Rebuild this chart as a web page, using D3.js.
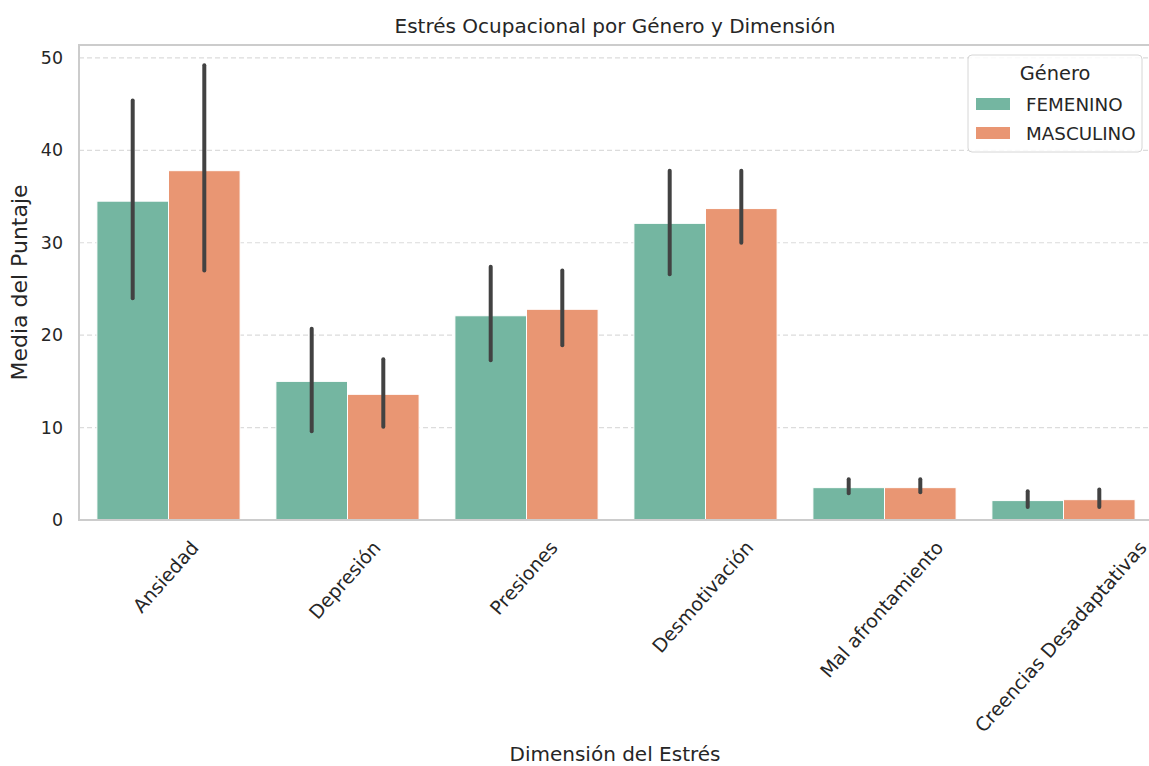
<!DOCTYPE html>
<html>

<head>
  <title>Estrés Ocupacional</title>
  <style>
    body, html { margin: 0; padding: 0; background: #fff; }
    svg { display: block; font-family: "DejaVu Sans", sans-serif; }
  </style>
</head>

<body>
  <svg id="svg" width="1149" height="766"></svg>

  <script src="https://d3js.org/d3.v7.min.js"></script>
  <script>
    const dimensions = ["Ansiedad", "Depresión", "Presiones", "Desmotivación", "Mal afrontamiento", "Creencias Desadaptativas"]
    const genders = ["FEMENINO", "MASCULINO"]
    const femMean = [34.5, 15.0, 22.1, 32.1, 3.5, 2.1]
    const femLow = [24.0, 9.6, 17.3, 26.6, 2.9, 1.4]
    const femHigh = [45.4, 20.7, 27.4, 37.8, 4.4, 3.1]
    const mascMean = [37.8, 13.6, 22.8, 33.7, 3.5, 2.2]
    const mascLow = [27.0, 10.1, 18.9, 30.0, 3.0, 1.4]
    const mascHigh = [49.2, 17.4, 27.0, 37.8, 4.4, 3.3]
    const yTicks = [0, 10, 20, 30, 40, 50]

    const colors = { FEMENINO: "#74b6a1", MASCULINO: "#e99673" }
    const textColor = "#262626"

    const rows = []
    dimensions.forEach((d, i) => {
      rows.push({ dim: d, gender: "FEMENINO", mean: femMean[i], lo: femLow[i], hi: femHigh[i] })
      rows.push({ dim: d, gender: "MASCULINO", mean: mascMean[i], lo: mascLow[i], hi: mascHigh[i] })
    })

    const plotLeft = 79, plotRight = 1153, plotTop = 45, plotBottom = 520

    const svg = d3.select("#svg")

    const x = d3.scaleBand()
      .domain(dimensions)
      .range([plotLeft, plotRight])

    const xInner = d3.scaleBand()
      .domain(genders)
      .range([0, x.bandwidth() * 0.8])

    const y = d3.scaleLinear()
      .domain([0, 51.4])
      .range([plotBottom, plotTop])

    const barX = d => x(d.dim) + x.bandwidth() * 0.1 + xInner(d.gender)

    // grid
    svg.append("g")
      .selectAll("line")
      .data(yTicks)
      .enter()
      .append("line")
      .attr("x1", plotLeft)
      .attr("x2", plotRight)
      .attr("y1", d => y(d))
      .attr("y2", d => y(d))
      .attr("stroke", "#dcdcdc")
      .attr("stroke-width", 1.2)
      .attr("stroke-dasharray", "5,3")

    // bars
    svg.append("g")
      .selectAll("rect")
      .data(rows)
      .enter()
      .append("rect")
      .attr("x", barX)
      .attr("width", xInner.bandwidth())
      .attr("y", d => y(d.mean))
      .attr("height", d => y(0) - y(d.mean))
      .attr("fill", d => colors[d.gender])
      .attr("stroke", "#fff")
      .attr("stroke-width", 1)

    // error bars
    svg.append("g")
      .selectAll("line")
      .data(rows)
      .enter()
      .append("line")
      .attr("x1", d => barX(d) + xInner.bandwidth() / 2)
      .attr("x2", d => barX(d) + xInner.bandwidth() / 2)
      .attr("y1", d => y(d.lo))
      .attr("y2", d => y(d.hi))
      .attr("stroke", "#424242")
      .attr("stroke-width", 4)
      .attr("stroke-linecap", "round")

    // spines
    const spine = svg.append("g").attr("stroke", "#cccccc").attr("stroke-width", 2).attr("fill", "none")
    spine.append("line").attr("x1", plotLeft).attr("x2", plotLeft).attr("y1", plotTop).attr("y2", plotBottom)
    spine.append("line").attr("x1", plotLeft - 1).attr("x2", plotRight).attr("y1", plotBottom).attr("y2", plotBottom)
    spine.append("line").attr("x1", plotLeft - 1).attr("x2", plotRight).attr("y1", plotTop).attr("y2", plotTop)

    // y ticks
    const leftAxis = d3.axisLeft(y).tickValues(yTicks).tickSize(0).tickPadding(16)
    const yAxisG = svg.append("g")
      .attr("transform", `translate(${plotLeft}, 0)`)
      .call(leftAxis)
    yAxisG.select(".domain").remove()
    yAxisG.selectAll("text")
      .attr("font-size", 17.4)
      .attr("fill", textColor)
      .attr("font-family", "DejaVu Sans")

    // x ticks, rotated around their centre
    const xFont = 19
    const angle = 48.5 * Math.PI / 180
    const bottomAxis = d3.axisBottom(x).tickSize(0).tickPadding(0)
    const xAxisG = svg.append("g")
      .attr("transform", `translate(0, ${plotBottom})`)
      .call(bottomAxis)
    xAxisG.select(".domain").remove()
    xAxisG.selectAll("text")
      .attr("font-size", xFont)
      .attr("fill", textColor)
      .attr("font-family", "DejaVu Sans")
      .attr("dy", null)
      .attr("y", 0)
      .attr("text-anchor", "middle")
      .attr("dominant-baseline", "central")
      .each(function () {
        const w = this.getComputedTextLength()
        const h = xFont * 0.75
        const half = (w * Math.sin(angle) + h * Math.cos(angle)) / 2
        d3.select(this).attr("transform", `translate(-3, ${19 + half}) rotate(-48.5)`)
      })

    // titles
    svg.append("text")
      .attr("x", 615)
      .attr("y", 33)
      .attr("text-anchor", "middle")
      .attr("font-size", 20)
      .attr("fill", textColor)
      .text("Estrés Ocupacional por Género y Dimensión")

    svg.append("text")
      .attr("transform", `translate(27, ${(plotTop + plotBottom) / 2}) rotate(-90)`)
      .attr("text-anchor", "middle")
      .attr("font-size", 22)
      .attr("fill", textColor)
      .text("Media del Puntaje")

    svg.append("text")
      .attr("x", 615)
      .attr("y", 761)
      .attr("text-anchor", "middle")
      .attr("font-size", 20)
      .attr("fill", textColor)
      .text("Dimensión del Estrés")

    // legend
    const legend = svg.append("g").attr("transform", "translate(968, 55)")
    legend.append("rect")
      .attr("width", 174)
      .attr("height", 97)
      .attr("rx", 4)
      .attr("fill", "rgba(255,255,255,0.85)")
      .attr("stroke", "#d6d6d6")
      .attr("stroke-width", 1)
    legend.append("text")
      .attr("x", 87)
      .attr("y", 25)
      .attr("text-anchor", "middle")
      .attr("font-size", 19.4)
      .attr("fill", textColor)
      .text("Género")
    const item = legend.selectAll(".item")
      .data(genders)
      .enter()
      .append("g")
      .attr("transform", (d, i) => `translate(8, ${43 + i * 29})`)
    item.append("rect")
      .attr("width", 34)
      .attr("height", 12)
      .attr("fill", d => colors[d])
    item.append("text")
      .attr("x", 50)
      .attr("y", 6)
      .attr("dominant-baseline", "central")
      .attr("font-size", 18.3)
      .attr("fill", textColor)
      .text(d => d)
  </script>
</body>

</html>
